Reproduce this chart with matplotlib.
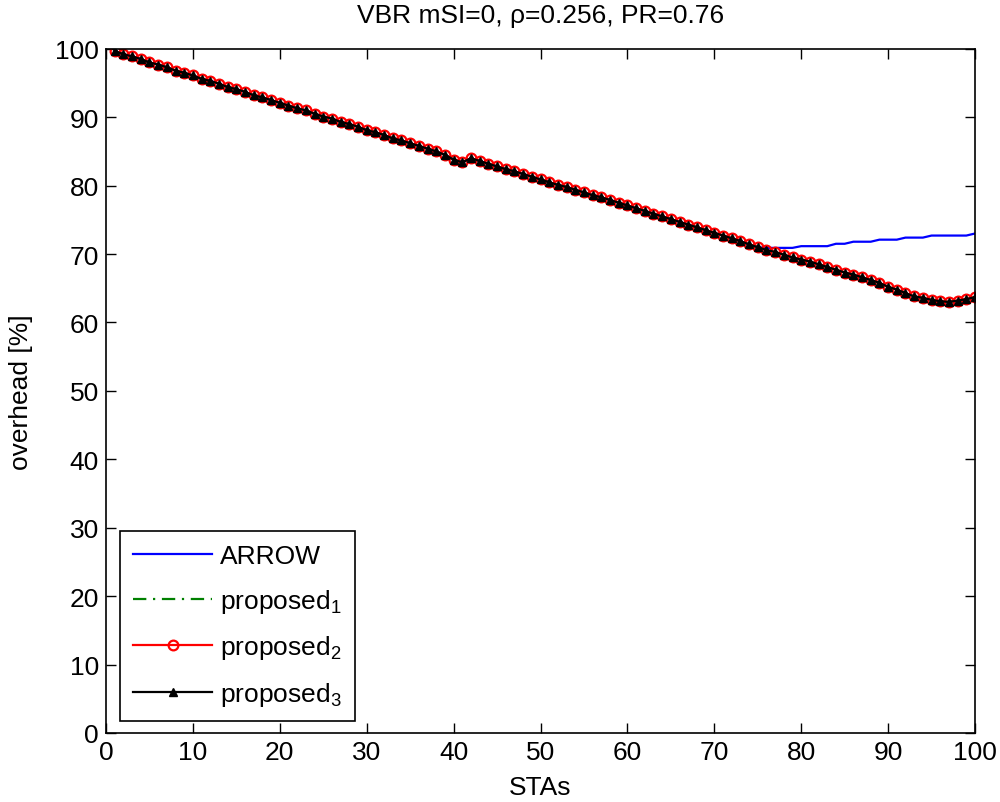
import matplotlib
matplotlib.use("Agg")
import matplotlib.pyplot as plt
import numpy as np

plt.rcParams['font.family'] = ['Liberation Sans', 'DejaVu Sans']
plt.rcParams['mathtext.default'] = 'regular'

stas = list(range(1, 101))
proposed = [
    99.7, 99.2, 98.9, 98.5, 98.0, 97.7, 97.3, 96.8, 96.5, 96.1,
    95.6, 95.3, 94.9, 94.4, 94.1, 93.7, 93.2, 92.9, 92.5, 92.1,
    91.7, 91.3, 91.0, 90.5, 90.1, 89.8, 89.3, 89.0, 88.6, 88.1,
    87.8, 87.4, 86.9, 86.6, 86.2, 85.8, 85.4, 85.0, 84.5, 83.8,
    83.4, 84.0, 83.6, 83.2, 82.8, 82.4, 82.1, 81.7, 81.3, 80.9,
    80.5, 80.1, 79.8, 79.4, 79.0, 78.6, 78.3, 77.9, 77.5, 77.1,
    76.7, 76.3, 75.9, 75.5, 75.1, 74.7, 74.3, 73.9, 73.5, 73.1,
    72.7, 72.3, 71.9, 71.4, 71.0, 70.6, 70.3, 69.9, 69.5, 69.2,
    68.9, 68.5, 68.1, 67.7, 67.3, 67.0, 66.6, 66.2, 65.8, 65.2,
    64.8, 64.3, 63.8, 63.6, 63.3, 63.1, 63.0, 63.2, 63.4, 63.7,
]
arrow = proposed[:75] + [
    70.9, 70.9, 70.9, 70.9,
    71.15, 71.15, 71.15, 71.15,
    71.5, 71.5,
    71.8, 71.8, 71.8,
    72.1, 72.1, 72.1,
    72.4, 72.4, 72.4,
    72.7, 72.7, 72.7, 72.7, 72.7,
    73.0,
]
proposed1 = proposed
proposed2 = proposed
proposed3 = proposed

title = 'VBR mSI=0, \u03c1=0.256, PR=0.76'
labels = ['ARROW', 'proposed$_1$', 'proposed$_2$', 'proposed$_3$']

fig = plt.figure(figsize=(10, 8.03), dpi=100)
ax = fig.add_axes([0.106, 0.086, 0.869, 0.852])

ax.plot(stas, arrow, color='#0000ff', lw=1.6, label=labels[0])
ax.plot(stas, proposed1, color='#008000', lw=1.6, ls=(0, (6, 3, 1, 3)), label=labels[1])
ax.plot(stas, proposed2, color='#ff0000', lw=1.6, marker='o', ms=7,
        mfc='none', mec='#ff0000', mew=1.6, label=labels[2])
ax.plot(stas, proposed3, color='black', lw=1.6, marker='^', ms=6,
        mfc='black', mec='black', label=labels[3])

ax.set_xlim(0, 100)
ax.set_ylim(0, 100)
ax.set_xticks(range(0, 101, 10))
ax.set_yticks(range(0, 101, 10))
ax.tick_params(direction='in', length=7, width=1, top=True, right=True,
               labelsize=19, pad=5)
for s in ax.spines.values():
    s.set_linewidth(1.2)
    s.set_color('black')

ax.set_title(title, fontsize=19, pad=19)
ax.set_xlabel('STAs', fontsize=19, labelpad=8)
ax.set_ylabel('overhead [%]', fontsize=19, labelpad=16)

leg = ax.legend(loc='lower left', bbox_to_anchor=(0.016, 0.0175), borderaxespad=0,
                fontsize=19, numpoints=1, handlelength=3.0, handletextpad=0.3,
                labelspacing=0.7, fancybox=False, edgecolor='black', framealpha=1,
                borderpad=0.5)
leg.get_frame().set_linewidth(1.2)

fig.savefig('out.png', dpi=100)
